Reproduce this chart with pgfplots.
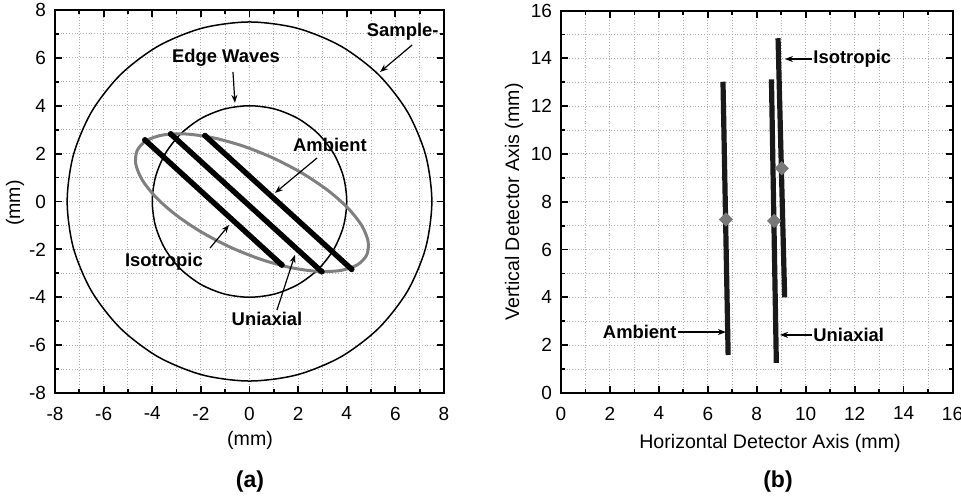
\documentclass[border=0pt]{standalone}
\usepackage{fontspec}
\setmainfont{Liberation Sans}
\usepackage{pgfplots}
\pgfplotsset{compat=1.18}
\usetikzlibrary{arrows.meta}

\definecolor{ellgray}{RGB}{128,128,128}
\definecolor{dotgray}{RGB}{120,120,120}
\definecolor{gridgray}{RGB}{175,175,175}

\pgfplotsset{
  panel/.style={
    scale only axis,
    grid=both, minor tick num=1,
    major grid style={densely dotted, gridgray, line width=0.5pt},
    minor grid style={densely dotted, gridgray, line width=0.5pt},
    axis line style={line width=1pt},
    tick align=inside,
    major tick length=3.5pt, minor tick length=2pt,
    tick style={black, line width=0.9pt},
    tick label style={font=\fontsize{9.5}{10}\selectfont},
    /pgf/number format/assume math mode=true,
    xticklabel style={yshift=-3.4pt},
    yticklabel style={xshift=-1pt},
    xtick distance=2, ytick distance=2,
  },
}
\tikzset{
  ann/.style={font=\fontsize{9.2}{10}\bfseries\selectfont, inner sep=0pt},
  arr/.style={-{Stealth[length=4pt,width=3pt]}, line width=0.6pt},
}

\begin{document}
\begin{tikzpicture}
\useasboundingbox (0,0) rectangle (480.5pt,250pt);

% ---- panel (a)
\begin{axis}[panel, at={(27.5pt,53.5pt)}, anchor=south west,
  width=194.5pt, height=191.5pt,
  xmin=-8, xmax=8, ymin=-8, ymax=8]
% sample
\addplot[black, line width=0.75pt, smooth cycle] coordinates {
  (7.5,0) (7.244,1.941) (6.495,3.75) (5.303,5.303) (3.75,6.495) (1.941,7.244)
  (0,7.5) (-1.941,7.244) (-3.75,6.495) (-5.303,5.303) (-6.495,3.75) (-7.244,1.941)
  (-7.5,0) (-7.244,-1.941) (-6.495,-3.75) (-5.303,-5.303) (-3.75,-6.495) (-1.941,-7.244)
  (0,-7.5) (1.941,-7.244) (3.75,-6.495) (5.303,-5.303) (6.495,-3.75) (7.244,-1.941)};
% edge waves
\addplot[black, line width=0.75pt, smooth cycle] coordinates {
  (4,0) (3.864,1.035) (3.464,2) (2.828,2.828) (2,3.464) (1.035,3.864)
  (0,4) (-1.035,3.864) (-2,3.464) (-2.828,2.828) (-3.464,2) (-3.864,1.035)
  (-4,0) (-3.864,-1.035) (-3.464,-2) (-2.828,-2.828) (-2,-3.464) (-1.035,-3.864)
  (0,-4) (1.035,-3.864) (2,-3.464) (2.828,-2.828) (3.464,-2) (3.864,-1.035)};
% ellipse
\addplot[ellgray, line width=1.5pt, smooth cycle] coordinates {
  (4.817,-2.239) (4.880,-1.680) (4.619,-1.011) (4.048,-0.276) (3.210,0.474) (2.158,1.188)
  (0.967,1.819) (-0.284,2.322) (-1.508,2.664) (-2.622,2.820) (-3.551,2.781) (-4.232,2.548)
  (-4.617,2.139) (-4.680,1.580) (-4.419,0.911) (-3.848,0.176) (-3.010,-0.574) (-1.958,-1.288)
  (-0.767,-1.919) (0.484,-2.422) (1.708,-2.764) (2.822,-2.920) (3.751,-2.881) (4.432,-2.648)};
% detector lines
\addplot[black, line width=2.7pt, mark=*, mark size=1.3pt, mark options={line width=0.3pt}]
  coordinates {(-4.30,2.57) (1.33,-2.65)};
\addplot[black, line width=2.7pt, mark=*, mark size=1.3pt, mark options={line width=0.3pt}]
  coordinates {(-3.24,2.82) (2.97,-2.93)};
\addplot[black, line width=2.7pt, mark=*, mark size=1.3pt, mark options={line width=0.3pt}]
  coordinates {(-1.83,2.75) (4.20,-2.83)};

\node[ann] at (axis cs:6.3,7.08) {Sample-};
\draw[arr] (axis cs:6.69,6.54) -- (axis cs:5.37,5.41);
\node[ann] at (axis cs:-0.97,6.0) {Edge Waves};
\draw[arr] (axis cs:-0.68,5.41) -- (axis cs:-0.60,4.12);
\node[ann] at (axis cs:3.31,2.36) {Ambient};
\draw[arr] (axis cs:2.78,1.82) -- (axis cs:1.05,0.36);
\node[ann] at (axis cs:-3.52,-2.53) {Isotropic};
\draw[arr] (axis cs:-1.62,-1.94) -- (axis cs:-0.84,-0.98);
\node[ann] at (axis cs:0.72,-4.91) {Uniaxial};
\draw[arr] (axis cs:1.13,-4.53) -- (axis cs:1.87,-2.23);
\end{axis}

% ---- panel (b)
\begin{axis}[panel, at={(280.5pt,53.5pt)}, anchor=south west,
  width=195.75pt, height=191.25pt,
  xmin=0, xmax=16, ymin=0, ymax=16]
\addplot[black!90, line width=2.6pt] coordinates {(6.62,13.02) (6.83,1.59)};
\addplot[black!90, line width=2.6pt] coordinates {(8.60,13.12) (8.80,1.26)};
\addplot[black!90, line width=2.6pt] coordinates {(8.87,14.84) (9.14,4.00)};
\addplot[only marks, mark=square*, mark size=2.3pt, dotgray,
  mark options={draw=dotgray, fill=dotgray, rotate=45}]
  coordinates {(6.74,7.26) (8.71,7.20) (9.02,9.40)};

\node[ann, anchor=west] at (axis cs:10.30,13.97) {Isotropic};
\draw[arr] (axis cs:10.26,13.97) -- (axis cs:9.15,13.97);
\node[ann, anchor=east] at (axis cs:4.74,2.55) {Ambient};
\draw[arr] (axis cs:4.78,2.55) -- (axis cs:6.74,2.55);
\node[ann, anchor=west] at (axis cs:10.30,2.43) {Uniaxial};
\draw[arr] (axis cs:10.26,2.43) -- (axis cs:8.95,2.43);
\end{axis}

% ---- labels
\node[font=\fontsize{9.8}{11}\selectfont] at (125pt,30pt) {(mm)};
\node[font=\fontsize{9.8}{11}\selectfont, rotate=90] at (7.5pt,148.5pt) {(mm)};
\node[font=\fontsize{9.8}{11}\selectfont] at (385pt,28.5pt) {Horizontal Detector Axis (mm)};
\node[font=\fontsize{9.8}{11}\selectfont, rotate=90] at (257pt,149pt) {Vertical Detector Axis (mm)};
\node[font=\fontsize{11.5}{13}\bfseries\selectfont] at (125pt,9pt) {(a)};
\node[font=\fontsize{11.5}{13}\bfseries\selectfont] at (389pt,9pt) {(b)};
\end{tikzpicture}
\end{document}
